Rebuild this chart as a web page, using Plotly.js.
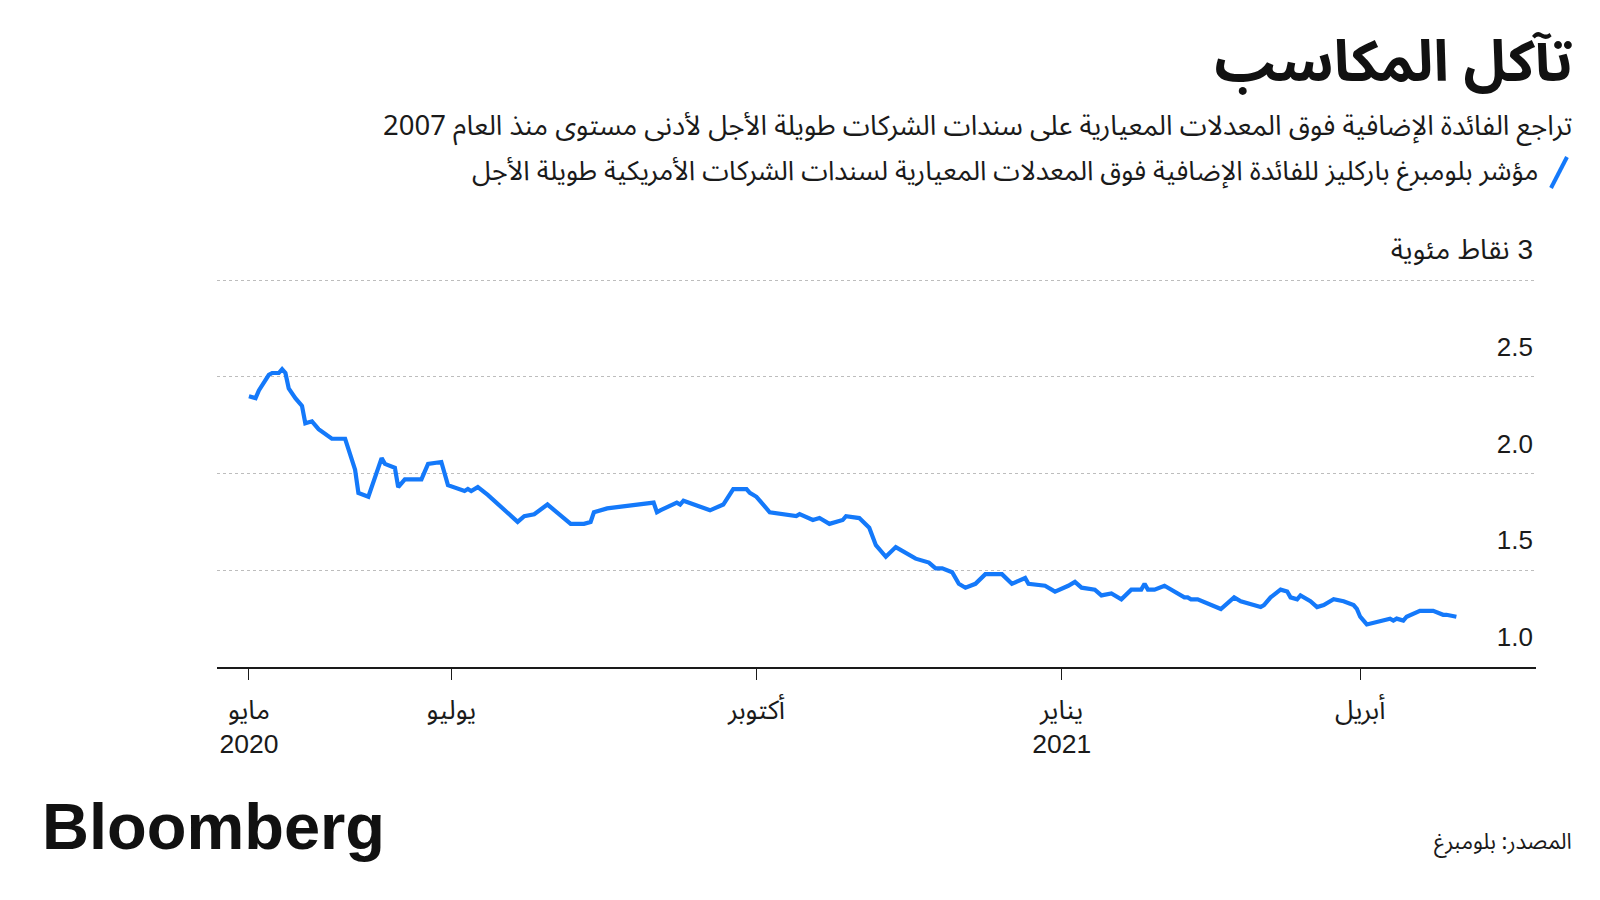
<!DOCTYPE html>
<html>
<head>
<meta charset="utf-8">
<script src="https://cdn.plot.ly/plotly-3.0.1.min.js"></script>
<style>
  html, body { margin: 0; padding: 0; background: #fff; }
  #chart { width: 1600px; height: 900px; }
</style>
</head>
<body>
<div id="chart"></div>
<script>
// ---- data ----
const dates = [
  "2020-05-01","2020-05-03","2020-05-04","2020-05-05","2020-05-06","2020-05-07","2020-05-08","2020-05-10",
  "2020-05-11","2020-05-12","2020-05-13","2020-05-15","2020-05-17","2020-05-18","2020-05-20","2020-05-22",
  "2020-05-26","2020-05-30","2020-06-02","2020-06-03","2020-06-06","2020-06-10","2020-06-11","2020-06-14",
  "2020-06-15","2020-06-17","2020-06-22","2020-06-24","2020-06-28","2020-06-30","2020-07-05","2020-07-06",
  "2020-07-07","2020-07-09","2020-07-12","2020-07-14","2020-07-18","2020-07-21","2020-07-23","2020-07-26",
  "2020-07-30","2020-08-02","2020-08-06","2020-08-10","2020-08-12","2020-08-13","2020-08-17","2020-08-31",
  "2020-09-01","2020-09-02","2020-09-07","2020-09-08","2020-09-09","2020-09-17","2020-09-21","2020-09-24",
  "2020-09-28","2020-09-29","2020-10-01","2020-10-05","2020-10-13","2020-10-14","2020-10-18","2020-10-20",
  "2020-10-23","2020-10-27","2020-10-28","2020-11-01","2020-11-04","2020-11-06","2020-11-09","2020-11-12",
  "2020-11-15","2020-11-18","2020-11-22","2020-11-24","2020-11-26","2020-11-29","2020-12-01","2020-12-03",
  "2020-12-06","2020-12-09","2020-12-14","2020-12-17","2020-12-21","2020-12-22","2020-12-27","2020-12-30",
  "2021-01-03","2021-01-05","2021-01-07","2021-01-11","2021-01-13","2021-01-16","2021-01-19","2021-01-22",
  "2021-01-25","2021-01-26","2021-01-27","2021-01-29","2021-02-01","2021-02-07","2021-02-08","2021-02-09",
  "2021-02-11","2021-02-18","2021-02-22","2021-02-24","2021-03-02","2021-03-03","2021-03-05","2021-03-08",
  "2021-03-10","2021-03-11","2021-03-13","2021-03-14","2021-03-17","2021-03-19","2021-03-21","2021-03-24",
  "2021-03-27","2021-03-30","2021-03-31","2021-04-01","2021-04-03","2021-04-07","2021-04-10","2021-04-11",
  "2021-04-12","2021-04-14","2021-04-15","2021-04-19","2021-04-23","2021-04-26","2021-04-27","2021-04-30"
];
const spreadValues = [
  2.40,2.39,2.43,2.46,2.49,2.51,2.52,2.52,
  2.54,2.52,2.44,2.39,2.35,2.26,2.27,2.23,
  2.18,2.18,2.02,1.90,1.88,2.08,2.05,2.03,
  1.93,1.97,1.97,2.05,2.06,1.94,1.91,1.92,
  1.91,1.93,1.89,1.86,1.80,1.75,1.78,1.79,
  1.84,1.80,1.74,1.74,1.75,1.80,1.82,1.85,
  1.80,1.81,1.85,1.84,1.86,1.81,1.84,1.92,
  1.92,1.90,1.88,1.80,1.78,1.79,1.76,1.77,
  1.74,1.76,1.78,1.77,1.72,1.63,1.57,1.62,
  1.59,1.56,1.54,1.51,1.51,1.49,1.43,1.41,
  1.43,1.48,1.48,1.43,1.46,1.43,1.42,1.39,
  1.42,1.44,1.41,1.40,1.37,1.38,1.35,1.40,
  1.40,1.43,1.40,1.40,1.42,1.36,1.36,1.35,
  1.35,1.30,1.36,1.34,1.31,1.32,1.36,1.40,
  1.39,1.36,1.35,1.37,1.34,1.31,1.32,1.35,
  1.34,1.32,1.30,1.26,1.22,1.24,1.25,1.24,
  1.25,1.24,1.26,1.29,1.29,1.27,1.27,1.26
];
const xTickDates = ["2020-05-01","2020-07-01","2020-10-01","2021-01-01","2021-04-01"];
const xTickLabels = ["مايو<br>2020","يوليو","أكتوبر","يناير<br>2021","أبريل"];
const yTickValues = [1.0, 1.5, 2.0, 2.5, 3.0];
const yTickLabels = ["1.0","1.5","2.0","2.5","3 نقاط مئوية"];

const titleText = "تآكل المكاسب";
const subtitleText = "تراجع الفائدة الإضافية فوق المعدلات المعيارية على سندات الشركات طويلة الأجل لأدنى مستوى منذ العام 2007";
const seriesName = "مؤشر بلومبرغ باركليز للفائدة الإضافية فوق المعدلات المعيارية لسندات الشركات الأمريكية طويلة الأجل";
const sourceText = "المصدر: بلومبرغ";
const brandText = "Bloomberg";

// ---- layout geometry (pixels) ----
const W = 1600, H = 900;
const pxPerUnit = 193.3;          // vertical pixels per percentage point
const plotL = 217, plotR = 1536, plotT = 196, plotB = 666.7;
const px2x = p => (p - plotL) / (plotR - plotL);
const px2y = p => (plotB - p) / (plotB - plotT);

const arabicFont = "'Noto Sans Arabic', 'Noto Sans', 'DejaVu Sans', sans-serif";
const numFont = "'Liberation Sans', Arial, 'Noto Sans Arabic', 'DejaVu Sans', sans-serif";
const blue = "#1479fa";
const ink = "#1a1a1a";

// the top tick label (with its unit) is wrapped in a right-to-left embedding and drawn a bit larger
const yTickText = yTickLabels.map((t, i) =>
  i === yTickLabels.length - 1
    ? '<span style="font-size:28px">\u202B' + t + '\u202C</span>'
    : t);

const trace = {
  type: "scatter",
  mode: "lines",
  x: dates,
  y: spreadValues,
  name: seriesName,
  line: { color: blue, width: 4.2, shape: "linear" },
  hoverinfo: "x+y",
  showlegend: false
};

const layout = {
  width: W, height: H,
  paper_bgcolor: "#ffffff",
  plot_bgcolor: "#ffffff",
  margin: { l: plotL, r: W - plotR, t: plotT, b: H - plotB, pad: 0 },
  showlegend: false,
  title: {
    text: titleText,
    font: { family: arabicFont, size: 57, color: "#111", weight: 700 },
    xref: "container", yref: "container",
    x: 1573 / W, xanchor: "right",
    y: 1 - 61 / H, yanchor: "middle"
  },
  xaxis: {
    type: "date",
    range: ["2020-04-21 09:00", "2021-05-24"],
    tickmode: "array",
    tickvals: xTickDates,
    ticktext: xTickLabels,
    ticks: "outside",
    ticklen: 11,
    tickwidth: 1,
    tickcolor: ink,
    ticklabelstandoff: 7,
    showline: true,
    linecolor: ink,
    linewidth: 2,
    showgrid: false,
    zeroline: false,
    fixedrange: true,
    tickfont: { family: numFont, size: 26.5, color: ink }
  },
  yaxis: {
    side: "right",
    range: [1, 1 + (plotB - plotT) / pxPerUnit],
    tickmode: "array",
    tickvals: yTickValues,
    ticktext: yTickText,
    ticks: "",
    ticklabelposition: "inside",
    ticklabelshift: -30,
    showline: false,
    showgrid: true,
    gridcolor: "#bdbdbd",
    gridwidth: 1,
    griddash: "dot",
    zeroline: false,
    fixedrange: true,
    tickfont: { family: numFont, size: 26, color: ink }
  },
  shapes: [
    {
      type: "line", xref: "paper", yref: "paper",
      x0: px2x(1551), y0: px2y(188), x1: px2x(1567), y1: px2y(157),
      line: { color: blue, width: 4 }
    }
  ],
  annotations: [
    {
      text: subtitleText, xref: "paper", yref: "paper",
      x: px2x(1574), y: px2y(126.5), xanchor: "right", yanchor: "middle",
      showarrow: false, font: { family: arabicFont, size: 27.5, color: ink }
    },
    {
      text: seriesName, xref: "paper", yref: "paper",
      x: px2x(1540), y: px2y(172), xanchor: "right", yanchor: "middle",
      showarrow: false, font: { family: arabicFont, size: 27, color: ink }
    },
    {
      text: brandText, xref: "paper", yref: "paper",
      x: px2x(40), y: px2y(826), xanchor: "left", yanchor: "middle",
      showarrow: false, font: { family: "'Liberation Sans', Arial, sans-serif", size: 65, color: "#111", weight: 700 }
    },
    {
      text: sourceText, xref: "paper", yref: "paper",
      x: px2x(1574), y: px2y(841.7), xanchor: "right", yanchor: "middle",
      showarrow: false, font: { family: arabicFont, size: 22, color: ink }
    }
  ]
};

Plotly.newPlot("chart", [trace], layout, { staticPlot: true, displayModeBar: false });
</script>
</body>
</html>
